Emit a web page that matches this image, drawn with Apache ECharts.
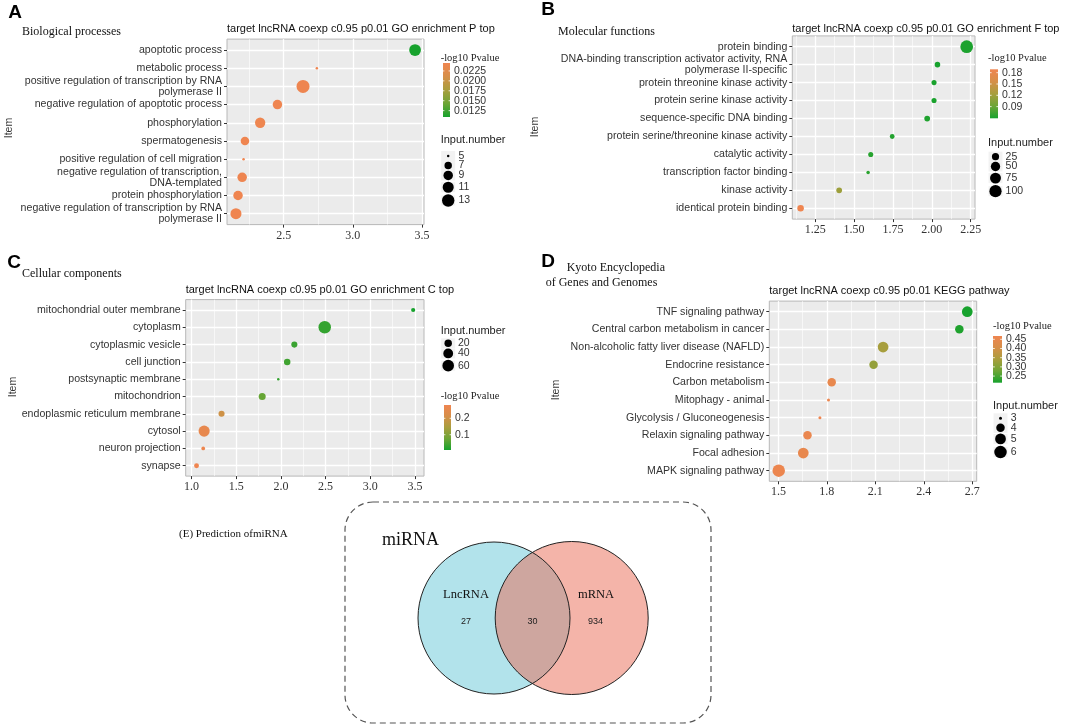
<!DOCTYPE html>
<html><head><meta charset="utf-8">
<script src="https://cdn.jsdelivr.net/npm/echarts@6/dist/echarts.min.js"></script>
<style>html,body{margin:0;padding:0;background:#fff}#c{width:1072px;height:725px}</style>
</head><body><div id="c"></div>
<script>
// ---------------- DATA ----------------
const titleA = 'target lncRNA coexp c0.95 p0.01 GO enrichment P top';
const catsA = ['apoptotic process','metabolic process','positive regulation of transcription by RNA\npolymerase II','negative regulation of apoptotic process','phosphorylation','spermatogenesis','positive regulation of cell migration','negative regulation of transcription,\nDNA-templated','protein phosphorylation','negative regulation of transcription by RNA\npolymerase II'];
const xA = [3.45, 2.74, 2.64, 2.455, 2.33, 2.22, 2.21, 2.20, 2.17, 2.155];
const nA = [12, 5, 14, 9, 10, 8, 5, 9, 9, 11];
const pA = [0.0109, 0.0245, 0.0244, 0.0245, 0.0243, 0.0245, 0.0245, 0.0244, 0.0245, 0.0245];
const ticksA = [2.5, 3.0, 3.5];
const minorA = [2.25, 2.75, 3.25];
const cbLabA = [0.0225, 0.0200, 0.0175, 0.0150, 0.0125];
const szLabA = [5, 7, 9, 11, 13];

const titleB = 'target lncRNA coexp c0.95 p0.01 GO enrichment F top';
const catsB = ['protein binding','DNA-binding transcription activator activity, RNA\npolymerase II-specific','protein threonine kinase activity','protein serine kinase activity','sequence-specific DNA binding','protein serine/threonine kinase activity','catalytic activity','transcription factor binding','kinase activity','identical protein binding'];
const xB = [2.224, 2.036, 2.014, 2.014, 1.97, 1.745, 1.607, 1.59, 1.404, 1.156];
const nB = [110, 14, 12, 12, 15, 11, 12, 9, 15, 20];
const pB = [0.061, 0.059, 0.060, 0.060, 0.062, 0.063, 0.065, 0.066, 0.118, 0.189];
const ticksB = [1.25, 1.50, 1.75, 2.00, 2.25];
const minorB = [1.125, 1.375, 1.625, 1.875, 2.125];
const cbLabB = [0.18, 0.15, 0.12, 0.09];
const szLabB = [25, 50, 75, 100];

const titleC = 'target lncRNA coexp c0.95 p0.01 GO enrichment C top';
const catsC = ['mitochondrial outer membrane','cytoplasm','cytoplasmic vesicle','cell junction','postsynaptic membrane','mitochondrion','endoplasmic reticulum membrane','cytosol','neuron projection','synapse'];
const xC = [3.48, 2.49, 2.15, 2.07, 1.97, 1.79, 1.335, 1.14, 1.13, 1.055];
const nC = [5, 72, 12, 14, 3, 17, 12, 55, 4, 7];
const pC = [0.007, 0.030, 0.035, 0.040, 0.030, 0.070, 0.200, 0.260, 0.275, 0.281];
const ticksC = [1.0, 1.5, 2.0, 2.5, 3.0, 3.5];
const minorC = [1.25, 1.75, 2.25, 2.75, 3.25];
const cbLabC = [0.2, 0.1];
const szLabC = [20, 40, 60];

const titleD = 'target lncRNA coexp c0.95 p0.01 KEGG pathway';
const catsD = ['TNF signaling pathway','Central carbon metabolism in cancer','Non-alcoholic fatty liver disease (NAFLD)','Endocrine resistance','Carbon metabolism','Mitophagy - animal','Glycolysis / Gluconeogenesis','Relaxin signaling pathway','Focal adhesion','MAPK signaling pathway'];
const xD = [2.669, 2.62, 2.148, 2.089, 1.83, 1.81, 1.757, 1.68, 1.654, 1.502];
const nD = [5, 4, 5, 4, 4, 3, 3, 4, 5, 6];
const pD = [0.214, 0.220, 0.340, 0.320, 0.450, 0.460, 0.468, 0.455, 0.450, 0.460];
const ticksD = [1.5, 1.8, 2.1, 2.4, 2.7];
const minorD = [1.65, 1.95, 2.25, 2.55];
const cbLabD = [0.45, 0.40, 0.35, 0.30, 0.25];
const szLabD = [3, 4, 5, 6];

const vennSets = ['LncRNA', 'mRNA'];
const vennCounts = [27, 30, 934]; // LncRNA only, shared, mRNA only
const vennTitle = 'miRNA';

// ---------------- STYLE ----------------
const SANS = "'Liberation Sans', Arial, sans-serif";
const SERIF = "'Liberation Serif', 'Times New Roman', serif";
const GRAD = ['#17A22D', '#6DA536', '#A89E3D', '#D68F49', '#EF8550'];

const panels = [
  {letter:'A', letterPos:[15,13], sub:['Biological processes'], subPos:[[22,32]],
   cats:catsA, x:xA, n:nA, p:pA, ticks:ticksA, minor:minorA, dec:1, title:titleA,
   grid:{left:227, top:39.1, width:197, height:185.5}, dmin:2.5, dmax:13,
   titlePos:[227,29.3], itemPos:[9,128],
   cbar:{tx:440.7, ty:58, x:443, y:63, w:7, h:54, labels:cbLabA, dec:4},
   slg:{tx:440.7, ty:140, y0:156, values:szLabA}},
  {letter:'B', letterPos:[548,10], sub:['Molecular functions'], subPos:[[558,32]],
   cats:catsB, x:xB, n:nB, p:pB, ticks:ticksB, minor:minorB, dec:2, title:titleB,
   grid:{left:792.3, top:35.9, width:182.7, height:183.2}, dmin:3.5, dmax:12.7,
   titlePos:[792.3,29.3], itemPos:[535,127],
   cbar:{tx:988, ty:58, x:990, y:69.3, w:8, h:49, labels:cbLabB, dec:2},
   slg:{tx:988, ty:143.3, y0:156.7, values:szLabB}},
  {letter:'C', letterPos:[14,263], sub:['Cellular components'], subPos:[[22,274]],
   cats:catsC, x:xC, n:nC, p:pC, ticks:ticksC, minor:minorC, dec:1, title:titleC,
   grid:{left:185.7, top:299.6, width:238.3, height:176.5}, dmin:2.5, dmax:12.5,
   titlePos:[185.7,290], itemPos:[13,387],
   cbar:{tx:440.7, ty:396, x:444, y:405, w:7, h:45, labels:cbLabC, dec:1},
   slg:{tx:440.7, ty:330.7, y0:343.3, values:szLabC}},
  {letter:'D', letterPos:[548,262], sub:['Kyoto Encyclopedia','of Genes and Genomes'], subPos:[[566.7,268.3],[545.7,282.7]],
   cats:catsD, x:xD, n:nD, p:pD, ticks:ticksD, minor:minorD, dec:1, title:titleD,
   grid:{left:769.3, top:301.1, width:207.4, height:180.2}, dmin:3, dmax:12.5,
   titlePos:[769.3,290.7], itemPos:[556,390],
   cbar:{tx:993, ty:326.7, x:993, y:336, w:9, h:46.7, labels:cbLabD, dec:2},
   slg:{tx:993, ty:406, y0:418.3, values:szLabD}}
];

function makeSize(n, dmin, dmax) {
  const lo = Math.min(...n), hi = Math.max(...n);
  return v => dmin + (dmax - dmin) * Math.sqrt(Math.max(0, v - lo) / (hi - lo));
}

const grids = [], xAxes = [], yAxes = [], series = [], visualMaps = [], gfx = [];

panels.forEach((P, k) => {
  const size = makeSize(P.n, P.dmin, P.dmax);
  const xmin0 = Math.min(...P.x), xmax0 = Math.max(...P.x), r = xmax0 - xmin0;
  const xmin = xmin0 - 0.05 * r, xmax = xmax0 + 0.05 * r;
  const pmin = Math.min(...P.p), pmax = Math.max(...P.p);
  const idx = P.cats.map((_, i) => i);

  grids.push(Object.assign({show:true, backgroundColor:'#EBEBEB', borderColor:'#B8B8B8', borderWidth:1}, P.grid));
  // major x axis
  xAxes.push({type:'value', gridIndex:k, min:xmin, max:xmax, position:'bottom',
    axisLine:{show:false, onZero:false},
    axisTick:{show:true, length:3, lineStyle:{color:'#333', width:1}, customValues:P.ticks},
    axisLabel:{show:true, customValues:P.ticks, margin:5, color:'#333', fontFamily:SERIF, fontSize:12,
      formatter: v => Number(v).toFixed(P.dec)},
    splitLine:{show:true, lineStyle:{color:'#FFFFFF', width:1.3}}});
  // minor x axis (minor grid lines)
  xAxes.push({type:'value', gridIndex:k, min:xmin, max:xmax, position:'top',
    axisLine:{show:false, onZero:false}, axisLabel:{show:false},
    axisTick:{show:false, customValues:P.minor},
    splitLine:{show:true, lineStyle:{color:'#FFFFFF', width:0.6}}});
  yAxes.push({type:'value', gridIndex:k, min:-0.6, max:P.cats.length - 0.4, inverse:true,
    axisLine:{show:false, onZero:false},
    axisTick:{show:true, length:3, lineStyle:{color:'#333', width:1}, customValues:idx},
    axisLabel:{show:true, customValues:idx, margin:5, color:'#333', fontFamily:SANS, fontSize:10.6, lineHeight:11,
      formatter: v => P.cats[Math.round(v)] || ''},
    splitLine:{show:true, lineStyle:{color:'#FFFFFF', width:1.3}}});
  series.push({type:'scatter', xAxisIndex:2*k, yAxisIndex:k,
    data: P.cats.map((c, i) => [P.x[i], i, P.n[i], P.p[i], c]),
    symbolSize: d => size(d[2]),
    itemStyle:{opacity:1}, emphasis:{disabled:true}, z:5});
  visualMaps.push({type:'continuous', show:false, seriesIndex:k, dimension:3, min:pmin, max:pmax,
    inRange:{color:GRAD}});

  // Panel letter, subtitles, chart title, axis name
  gfx.push({type:'text', x:P.letterPos[0], y:P.letterPos[1],
    style:{text:P.letter, font:'bold 19px ' + SANS, fill:'#000', align:'center', verticalAlign:'middle'}});
  P.sub.forEach((s, j) => gfx.push({type:'text', x:P.subPos[j][0], y:P.subPos[j][1],
    style:{text:s, font:'12px ' + SERIF, fill:'#111', align:'left', verticalAlign:'middle'}}));
  gfx.push({type:'text', x:P.titlePos[0], y:P.titlePos[1],
    style:{text:P.title, font:'11px ' + SANS, fill:'#111', align:'left', verticalAlign:'middle'}});
  gfx.push({type:'text', x:P.itemPos[0], y:P.itemPos[1], rotation:Math.PI/2,
    style:{text:'Item', font:'10.5px ' + SANS, fill:'#333', align:'center', verticalAlign:'middle'}});

  // Colour bar legend
  const cb = P.cbar;
  gfx.push({type:'text', x:cb.tx, y:cb.ty,
    style:{text:'-log10 Pvalue', font:'10.5px ' + SERIF, fill:'#222', align:'left', verticalAlign:'middle'}});
  gfx.push({type:'rect', shape:{x:cb.x, y:cb.y, width:cb.w, height:cb.h},
    style:{fill:{type:'linear', x:0, y:0, x2:0, y2:1,
      colorStops: GRAD.slice().reverse().map((c, i, a) => ({offset:i/(a.length-1), color:c}))}}});
  cb.labels.forEach(v => {
    const yy = cb.y + (pmax - v) / (pmax - pmin) * cb.h;
    gfx.push({type:'line', shape:{x1:cb.x, y1:yy, x2:cb.x + cb.w*0.2, y2:yy}, style:{stroke:'#fff', lineWidth:0.8}});
    gfx.push({type:'line', shape:{x1:cb.x + cb.w*0.8, y1:yy, x2:cb.x + cb.w, y2:yy}, style:{stroke:'#fff', lineWidth:0.8}});
    gfx.push({type:'text', x:cb.x + cb.w + 4, y:yy,
      style:{text:v.toFixed(cb.dec), font:'10.5px ' + SANS, fill:'#333', align:'left', verticalAlign:'middle'}});
  });

  // Size legend
  const sl = P.slg;
  gfx.push({type:'text', x:sl.tx, y:sl.ty,
    style:{text:'Input.number', font:'11px ' + SANS, fill:'#222', align:'left', verticalAlign:'middle'}});
  const ds = sl.values.map(v => size(v));
  const dmaxL = Math.max(...ds);
  const dotX = sl.tx + 7.5;
  let yy = sl.y0;
  sl.values.forEach((v, i) => {
    if (i > 0) yy += Math.max(9.5, (ds[i-1] + ds[i]) / 2 + 1.5);
    gfx.push({type:'rect', shape:{x:dotX - 7, y:yy - 5, width:14, height:10}, style:{fill:'#F2F2F2'}, z:-1});
    gfx.push({type:'circle', shape:{cx:dotX, cy:yy, r:ds[i]/2}, style:{fill:'#000'}});
    gfx.push({type:'text', x:dotX + dmaxL/2 + 4, y:yy,
      style:{text:String(v), font:'10.5px ' + SANS, fill:'#333', align:'left', verticalAlign:'middle'}});
  });
});

// ---------------- Venn (E) ----------------
gfx.push({type:'text', x:179, y:534,
  style:{text:'(E) Prediction ofmiRNA', font:'11px ' + SERIF, fill:'#111', align:'left', verticalAlign:'middle'}});
gfx.push({type:'rect', shape:{x:345, y:502, width:366, height:221, r:28},
  style:{fill:'none', stroke:'#555', lineWidth:1.2, lineDash:[6,4]}});
gfx.push({type:'text', x:382, y:540,
  style:{text:vennTitle, font:'18px ' + SERIF, fill:'#111', align:'left', verticalAlign:'middle'}});
const vc = [[494, 618, 76], [571.7, 618, 76.5]];
gfx.push({type:'circle', shape:{cx:vc[0][0], cy:vc[0][1], r:vc[0][2]}, style:{fill:'rgba(101,199,215,0.5)'}});
gfx.push({type:'circle', shape:{cx:vc[1][0], cy:vc[1][1], r:vc[1][2]}, style:{fill:'rgba(233,105,83,0.5)'}});
vc.forEach(c => gfx.push({type:'circle', shape:{cx:c[0], cy:c[1], r:c[2]}, style:{fill:'none', stroke:'#222', lineWidth:1}}));
gfx.push({type:'text', x:466, y:595, style:{text:vennSets[0], font:'12.5px ' + SERIF, fill:'#111', align:'center', verticalAlign:'middle'}});
gfx.push({type:'text', x:596, y:595, style:{text:vennSets[1], font:'12.5px ' + SERIF, fill:'#111', align:'center', verticalAlign:'middle'}});
const vnx = [466, 532.5, 595.5];
vennCounts.forEach((v, i) => gfx.push({type:'text', x:vnx[i], y:622,
  style:{text:String(v), font:'9px ' + SANS, fill:'#222', align:'center', verticalAlign:'middle'}}));

const chart = echarts.init(document.getElementById('c'));
chart.setOption({
  animation:false,
  backgroundColor:'#fff',
  grid:grids, xAxis:xAxes, yAxis:yAxes, series:series, visualMap:visualMaps,
  graphic:{elements:gfx}
});
</script></body></html>
